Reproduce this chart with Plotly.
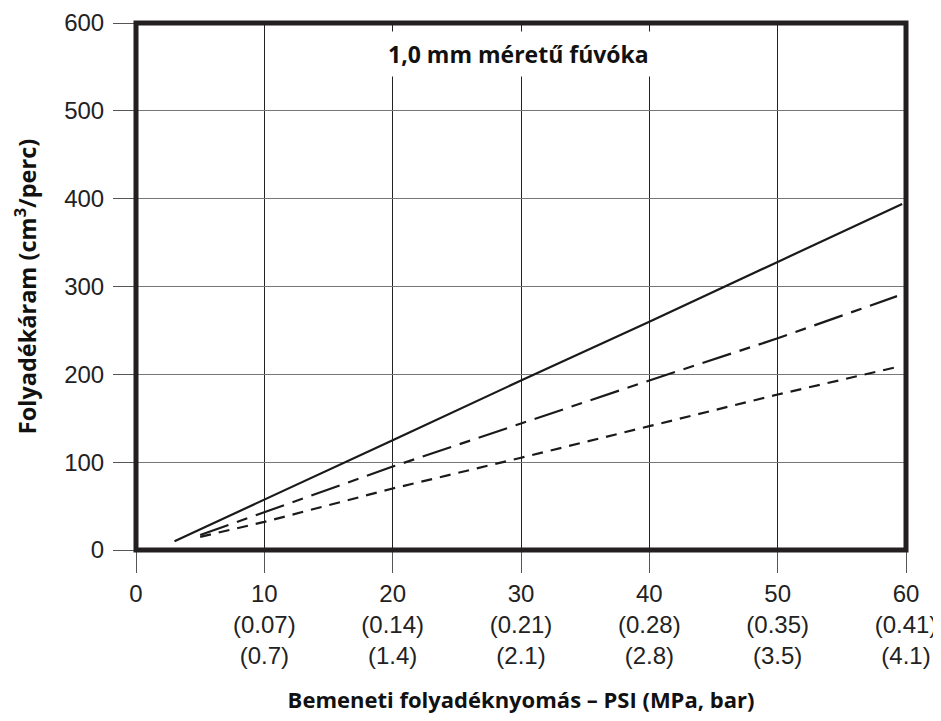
import plotly.graph_objects as go

# Data
psi_solid = [3, 10, 20, 30, 40, 50, 59.7]
flow_solid = [10, 57, 125, 193, 260, 328, 394]

psi_dashdot = [5, 10, 20, 30, 40, 50, 59.3]
flow_dashdot = [17, 43, 95, 144, 193, 241, 289]

psi_dash = [5, 10, 20, 30, 40, 50, 59.2]
flow_dash = [15, 32, 70, 105, 141, 177, 208]

x_tickvals = [0, 10, 20, 30, 40, 50, 60]
x_ticktext = ["0", "10<br>(0.07)<br>(0.7)", "20<br>(0.14)<br>(1.4)", "30<br>(0.21)<br>(2.1)",
              "40<br>(0.28)<br>(2.8)", "50<br>(0.35)<br>(3.5)", "60<br>(0.41)<br>(4.1)"]
y_tickvals = [0, 100, 200, 300, 400, 500, 600]

title_text = "1,0 mm méretű fúvóka"
x_title = "Bemeneti folyadéknyomás – PSI (MPa, bar)"
y_title = "Folyadékáram (cm<sup>3</sup>/perc)"

fig = go.Figure()
fig.add_trace(go.Scatter(x=psi_solid, y=flow_solid, mode="lines",
                         line=dict(color="#1a1a1a", width=2.2), showlegend=False))
fig.add_trace(go.Scatter(x=psi_dashdot, y=flow_dashdot, mode="lines",
                         line=dict(color="#1a1a1a", width=2.2, dash="30px,9px,11px,9px"), showlegend=False))
fig.add_trace(go.Scatter(x=psi_dash, y=flow_dash, mode="lines",
                         line=dict(color="#1a1a1a", width=2.2, dash="11px,8px"), showlegend=False))

tick_font = dict(family="Liberation Sans, Arial, sans-serif", size=24, color="#222")
x_title_font = dict(family="Open Sans, sans-serif", size=22, color="#111")
y_title_font = dict(family="Open Sans, sans-serif", size=23.5, color="#111")

fig.update_layout(
    width=933, height=713,
    margin=dict(l=128, r=35, t=15, b=171),
    paper_bgcolor="white", plot_bgcolor="white",
    xaxis=dict(range=[0, 60], tickvals=x_tickvals, ticktext=x_ticktext, automargin=False,
               showgrid=True, gridcolor="#222", gridwidth=1, zeroline=False,
               ticks="outside", ticklen=22, tickcolor="#555", tickwidth=1,
               tickfont=tick_font, showline=False,
               title=dict(text="<b>" + x_title + "</b>", font=x_title_font, standoff=24)),
    yaxis=dict(range=[0, 600], tickvals=y_tickvals, automargin=False,
               showgrid=True, gridcolor="#777", gridwidth=1, zeroline=False,
               ticks="outside", ticklen=22, tickcolor="#555", tickwidth=1,
               tickfont=tick_font, showline=False, ticklabelstandoff=4,
               title=dict(text="<b>" + y_title + "</b>", font=y_title_font, standoff=22)),
    shapes=[dict(type="rect", xref="paper", yref="paper", x0=0, y0=0, x1=1, y1=1,
                 line=dict(color="#231f20", width=5), layer="above")],
    annotations=[dict(x=29.8, y=565, xref="x", yref="y", text="<b>" + title_text + "</b>",
                      showarrow=False, bgcolor="white", borderpad=6,
                      font=dict(family="Open Sans, sans-serif", size=23, color="#111"))],
)

fig.write_html("out.html")
